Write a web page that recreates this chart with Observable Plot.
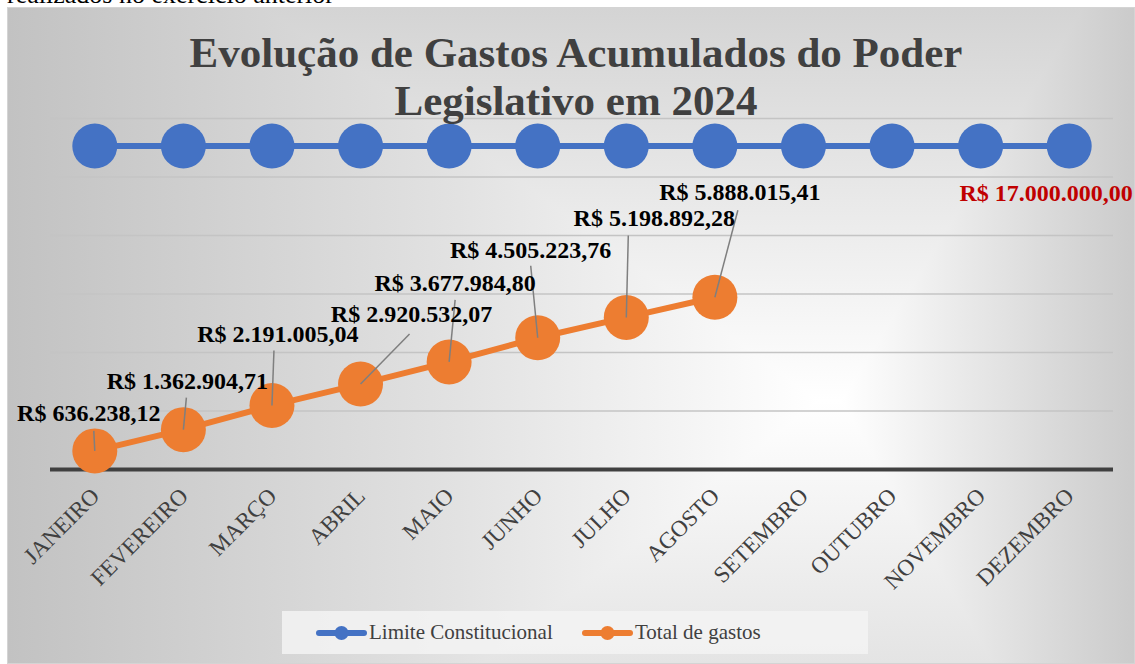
<!DOCTYPE html>
<html><head><meta charset="utf-8">
<script src="https://cdn.jsdelivr.net/npm/d3@7"></script>
<script src="https://cdn.jsdelivr.net/npm/@observablehq/plot@0.6"></script>
<style>
html,body{margin:0;padding:0;background:#fff;width:1135px;height:664px;overflow:hidden;font-family:"Liberation Serif","Times New Roman",serif;}
#pre{position:absolute;left:7px;top:-18px;font-size:26px;line-height:26px;color:#000;white-space:nowrap;}
#chart{position:absolute;left:7px;top:7px;width:1128px;height:657px;box-sizing:border-box;border:1px solid #d4d4d4;
  background:linear-gradient(to right, #c2c2c2 0%, #e2e2e2 40%, #ffffff 72%, #ffffff 74%, #cbcbcb 100%),
             linear-gradient(to bottom, #d4d4d4 0%, #ffffff 60%, #e4e4e4 100%);
  background-blend-mode:darken;}
#plot{position:absolute;left:0;top:0;}
#plot svg{overflow:visible;font-family:"Liberation Serif","Times New Roman",serif !important;}
#plot svg text{font-family:"Liberation Serif","Times New Roman",serif !important;}
#title{position:absolute;left:8px;top:29px;width:1136px;text-align:center;font-weight:bold;font-size:43px;line-height:48px;color:#404040;}
#legend{position:absolute;left:282px;top:611px;width:586px;height:43px;background:rgba(243,243,243,0.85);font-size:21px;color:#404040;}
.item{display:flex;align-items:center;position:absolute;top:0;height:43px;}
.item svg{display:block;margin-right:2px;}
</style></head>
<body>
<div id="pre">realizados no exercício anterior</div>
<div id="chart"></div>
<div id="plot"></div>
<div id="title">Evolução de Gastos Acumulados do Poder<br>Legislativo em 2024</div>
<div id="legend"></div>
<script>
// ---- data ----
const months = ["JANEIRO","FEVEREIRO","MARÇO","ABRIL","MAIO","JUNHO","JULHO","AGOSTO","SETEMBRO","OUTUBRO","NOVEMBRO","DEZEMBRO"];
const limite = [17000000,17000000,17000000,17000000,17000000,17000000,17000000,17000000,17000000,17000000,17000000,17000000];
const gastos = [636238.12,1362904.71,2191005.04,2920532.07,3677984.80,4505223.76,5198892.28,5888015.41];
const yGrid = [2000000,4000000,6000000,8000000,10000000,12000000];
const seriesNames = ["Limite Constitucional","Total de gastos"];
const Y_MAX = 12000000;      // primary axis max
const Y2_MAX = 18450000;     // secondary axis max (Limite Constitucional)

// ---- layout (label placement, pixels) ----
const gastosLabelOffset = [[-6,-38],[4,-48],[6,-71],[51,-70],[6,-79],[-7,-87],[28,-99],[25,-105]];
const gastosLeaderOffset = [[-1,-20],[3,-32],[2,-55],[49,-50],[6,-62],[-7,-72],[2,-82],[23,-87]];
const limiteLabelOffset = [-23,47];

const BLUE = "#4472C4", ORANGE = "#ED7D31";
const FONT = "Liberation Serif";
const brl = d3.formatLocale({decimal:",",thousands:".",grouping:[3],currency:["R$ ",""]}).format("$,.2f");

const limiteData = limite.map((v,i)=>({i, v, y: v*Y_MAX/Y2_MAX}));
const gastosData = gastos.map((v,i)=>({i, v, y: v}));

const base = {
  width:1135, height:600,
  marginLeft:50, marginRight:22, marginTop:118, marginBottom:131,
  x:{type:"linear", domain:[-0.5,11.5], axis:null},
  y:{type:"linear", domain:[0,Y_MAX], axis:null},
  style:{fontFamily:FONT, background:"transparent", overflow:"visible"}
};
const probe = Plot.plot({...base, marks:[]});
const sx = probe.scale("x"), sy = probe.scale("y");
const X = d3.scaleLinear(sx.domain, sx.range), Y = d3.scaleLinear(sy.domain, sy.range);

const gastosLabels = gastosData.map(d=>({
  text: brl(d.v),
  x: X.invert(X(d.i)+gastosLabelOffset[d.i][0]),
  y: Y.invert(Y(d.y)+gastosLabelOffset[d.i][1])
}));
const leaders = gastosData.map(d=>({
  x1: d.i, y1: d.y,
  x2: X.invert(X(d.i)+gastosLeaderOffset[d.i][0]),
  y2: Y.invert(Y(d.y)+gastosLeaderOffset[d.i][1])
}));
const last = limiteData[limiteData.length-1];
const limiteLabel = [{
  text: brl(last.v),
  x: X.invert(X(last.i)+limiteLabelOffset[0]),
  y: Y.invert(Y(last.y)+limiteLabelOffset[1])
}];

const plot = Plot.plot({
  ...base,
  marks:[
    Plot.ruleY(yGrid, {stroke:"#c4c4c4", strokeWidth:1.3}),
    Plot.ruleY([0], {stroke:"#404040", strokeWidth:4}),
    Plot.text(months, {x:(d,i)=>i, frameAnchor:"bottom", text:d=>d, rotate:-45, textAnchor:"end", dx:6, dy:28, fontSize:23, fontFamily:FONT, fill:"#404040"}),
    Plot.line(limiteData, {x:"i", y:"y", stroke:BLUE, strokeWidth:6}),
    Plot.dot(limiteData, {x:"i", y:"y", r:22.5, fill:BLUE}),
    Plot.line(gastosData, {x:"i", y:"y", stroke:ORANGE, strokeWidth:6}),
    Plot.dot(gastosData, {x:"i", y:"y", r:22.5, fill:ORANGE}),
    Plot.link(leaders, {x1:"x1", y1:"y1", x2:"x2", y2:"y2", stroke:"#7f7f7f", strokeWidth:1.5}),
    Plot.text(gastosLabels, {x:"x", y:"y", text:"text", fontSize:24, fontWeight:"bold", fontFamily:FONT, fill:"#000"}),
    Plot.text(limiteLabel, {x:"x", y:"y", text:"text", fontSize:24, fontWeight:"bold", fontFamily:FONT, fill:"#C00000"})
  ]
});
document.getElementById("plot").appendChild(plot);

// legend
const leg = document.getElementById("legend");
const legX = [34, 300];
[BLUE, ORANGE].forEach((c,k)=>{
  const it = document.createElement("div");
  it.className = "item";
  it.style.left = legX[k]+"px";
  it.innerHTML = `<svg width="51" height="16"><line x1="3" y1="8" x2="48" y2="8" stroke="${c}" stroke-width="6" stroke-linecap="round"/><circle cx="25.5" cy="8" r="7" fill="${c}"/></svg><span>${seriesNames[k]}</span>`;
  leg.appendChild(it);
});
</script>
</body></html>
